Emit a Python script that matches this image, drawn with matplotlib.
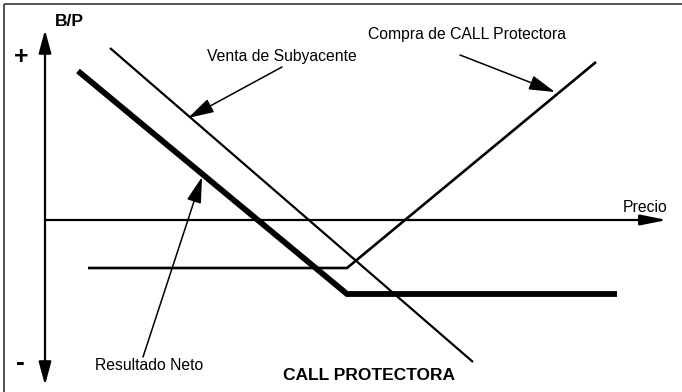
"""
Esquema de la estrategia CALL PROTECTORA (B/P frente a Precio)
"""
import matplotlib.pyplot as plt

plt.rcParams['font.family'] = ['Liberation Sans', 'DejaVu Sans']

# Coordenadas del esquema (unidades de dibujo, y hacia abajo)
precio_venta = [110, 473]
bp_venta = [48, 362]

precio_call = [88, 347, 596]
bp_call = [268, 268, 62]

precio_neto = [78, 347, 617]
bp_neto = [71, 294, 294]

# Ejes del esquema
eje_bp_x = 45
eje_bp_y = [30, 385]
eje_precio_y = 220
eje_precio_x = [45, 667]

fig = plt.figure(figsize=(6.82, 3.92), dpi=100)
ax = fig.add_axes([0, 0, 1, 1])
ax.set_xlim(0, 682)
ax.set_ylim(392, 0)
ax.axis('off')

# Marco (solo bordes superior e izquierdo visibles)
ax.plot([3.5, 682], [3.5, 3.5], color='#333333', lw=1.2, solid_capstyle='butt')
ax.plot([3.5, 3.5], [3.5, 392], color='#333333', lw=1.2, solid_capstyle='butt')

# Ejes con flechas
ax.annotate('', xy=(eje_bp_x, eje_bp_y[0]), xytext=(eje_bp_x, eje_bp_y[1]),
            arrowprops=dict(arrowstyle='<|-|>,head_length=1.4,head_width=0.38',
                            mutation_scale=10, lw=1.6, color='k',
                            shrinkA=0, shrinkB=0))
ax.annotate('', xy=(eje_precio_x[1], eje_precio_y), xytext=(eje_precio_x[0], eje_precio_y),
            arrowprops=dict(arrowstyle='-|>,head_length=1.6,head_width=0.32',
                            mutation_scale=10, lw=1.6, color='k',
                            shrinkA=0, shrinkB=0))

# Lineas de la estrategia
ax.plot(precio_venta, bp_venta, color='k', lw=1.6, solid_capstyle='butt')
ax.plot(precio_call, bp_call, color='k', lw=1.9, solid_capstyle='butt',
        solid_joinstyle='miter')
ax.plot(precio_neto, bp_neto, color='k', lw=4.2, solid_capstyle='butt',
        solid_joinstyle='miter')

# Etiquetas con flechas
flecha = dict(arrowstyle='-|>,head_length=1.6,head_width=0.45', mutation_scale=10,
              lw=1.1, color='k', shrinkA=0, shrinkB=0)
ax.annotate('', xy=(188, 118), xytext=(282, 67), arrowprops=flecha)
ax.annotate('', xy=(555, 92), xytext=(460, 55), arrowprops=flecha)
ax.annotate('', xy=(202, 177), xytext=(143, 357), arrowprops=flecha)

ax.text(282, 56, 'Venta de Subyacente', fontsize=11.3, ha='center', va='center')
ax.text(467, 34, 'Compra de CALL Protectora', fontsize=11.3, ha='center', va='center')
ax.text(149, 365, 'Resultado Neto', fontsize=11.3, ha='center', va='center')
ax.text(668, 207, 'Precio', fontsize=11.3, ha='right', va='center')

ax.text(69, 21, 'B/P', fontsize=12.5, fontweight='bold', ha='center', va='center')
ax.text(21.5, 57, '+', fontsize=18, fontweight='bold', ha='center', va='center')
ax.text(20.5, 363, '-', fontsize=19, fontweight='bold', ha='center', va='center')
ax.text(369, 375, 'CALL PROTECTORA', fontsize=12.5, fontweight='bold',
        ha='center', va='center')

plt.savefig('out.png', dpi=100)
